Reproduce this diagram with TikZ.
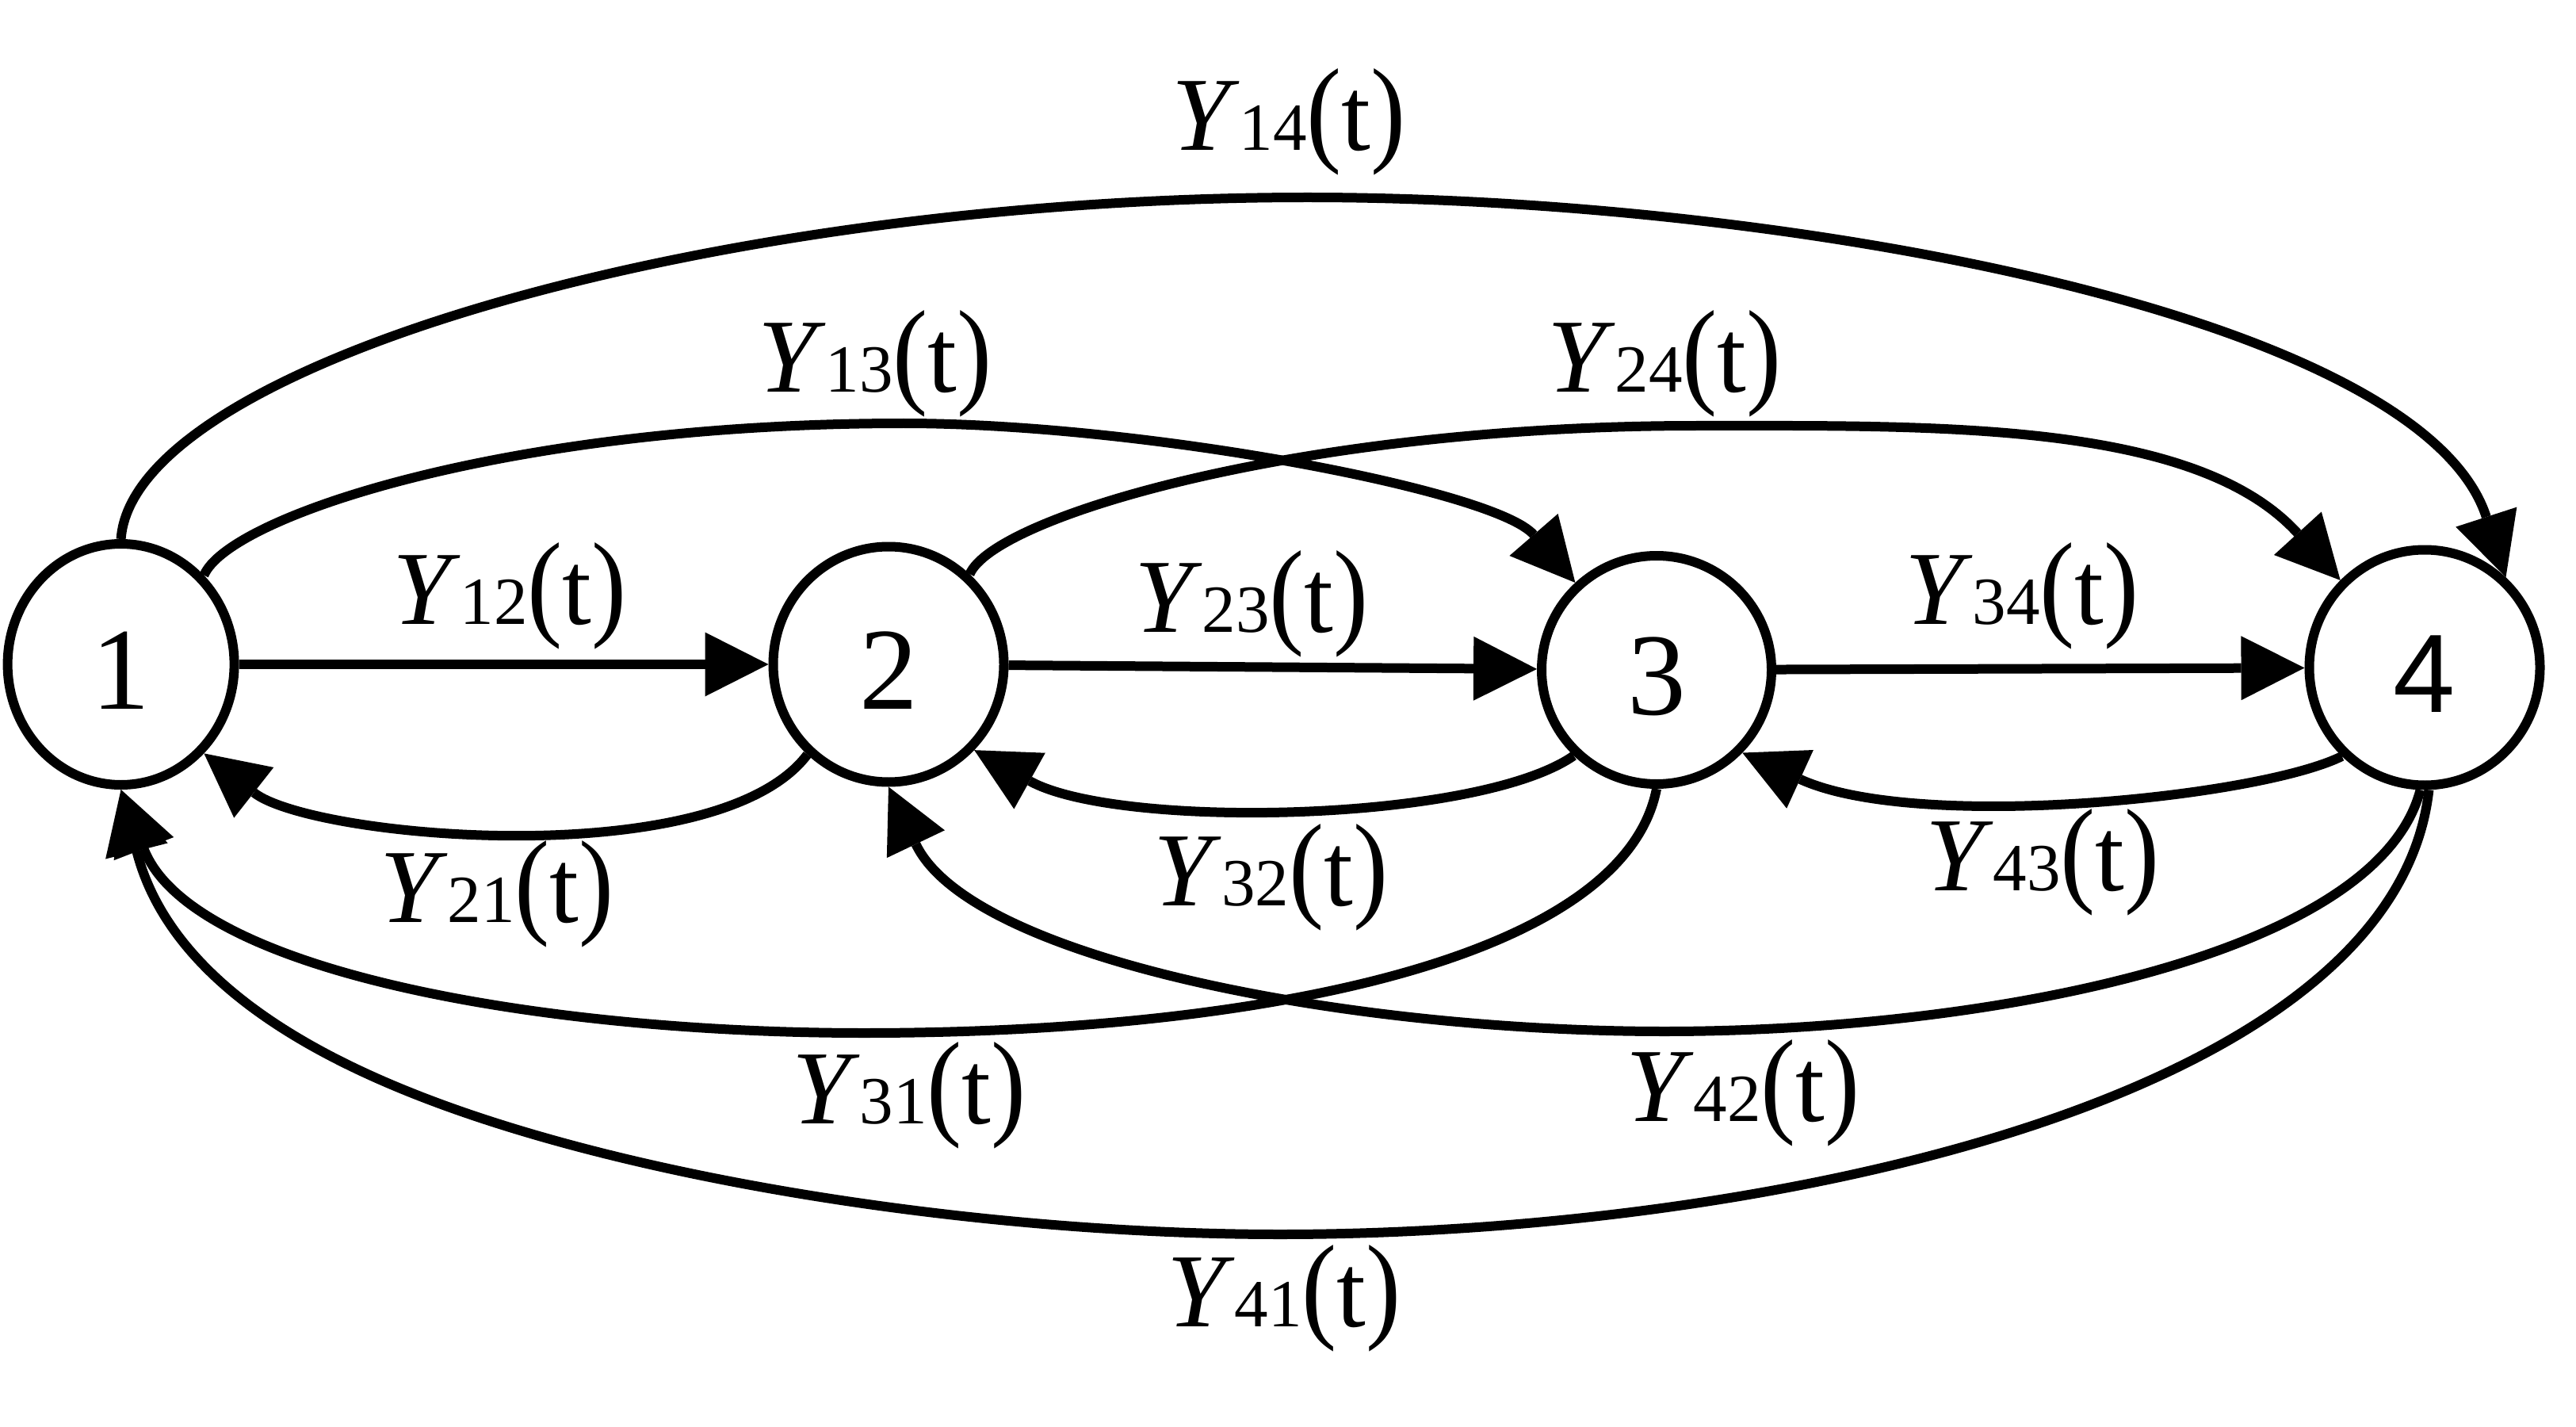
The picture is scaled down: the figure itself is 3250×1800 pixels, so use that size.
\documentclass[tikz,border=0pt]{standalone}
\usepackage{fontspec}
\setmainfont{Liberation Serif}
\newfontfamily\lsans{Liberation Sans}
\usepackage{graphicx}
\usetikzlibrary{arrows.meta,shapes.geometric}
\newcommand{\ylab}[1]{\textit{Y}{\fontsize{24.2pt}{26pt}\selectfont #1}\scalebox{1}[1.12]{(}t\scalebox{1}[1.12]{)}}
\begin{document}
\begin{tikzpicture}[x=0.1mm,y=-0.1mm,
  nd/.style={draw, ellipse, line width=1.2mm, inner sep=0pt, text height=11.2mm, text depth=0pt, font=\fontsize{42pt}{44pt}\selectfont},
  edge/.style={line width=1.2mm, -{Triangle[length=8mm,width=8.1mm,line width=0pt]}},
  lab/.style={anchor=base, inner sep=0pt, font=\fontsize{37.7pt}{40pt}\selectfont}]
\useasboundingbox (0,0) rectangle (3250,1800);
% states
\node[nd, minimum width=28.6mm, minimum height=30.4mm] (n1) at (152.6,838) {1};
\node[nd, minimum width=29.1mm, minimum height=29.7mm] (n2) at (1121,838) {2};
\node[nd, minimum width=29.0mm, minimum height=28.8mm] (n3) at (2090,845) {3};
\node[nd, minimum width=29.1mm, minimum height=29.7mm, font=\fontsize{40pt}{42pt}\lsans] (n4) at (3059,842) {4};
% straight transitions
\draw[edge] (n1) -- (n2);
\draw[edge] (n2) -- (n3);
\draw[edge] (n3) -- (n4);
% upper arcs
\draw[edge] (n1.north) .. controls (168,460) and (900,249) .. (1650,249)
  .. controls (2250,249) and (3054,396.5) .. (n4.48);
\draw[edge] (n1.47) .. controls (288,652) and (640,534) .. (1140,534)
  .. controls (1440,534) and (1886,618) .. (n3.133);
\draw[edge] (n2.48) .. controls (1254,652) and (1640,537) .. (2140,537)
  .. controls (2440,537) and (2769,530) .. (n4.134);
% lower short arcs
\draw[edge] (n2.228) .. controls (905,1103) and (394,1057.7) .. (n1.-47);
\draw[edge] (n3.226) .. controls (1864,1038) and (1409.6,1046.7) .. (n2.-45);
\draw[edge] (n4.227) .. controls (2849.4,1006.1) and (2417.7,1050) .. (n3.-44);
% lower long arcs
\draw[edge] (n3.south) .. controls (2048,1210) and (1590,1303) .. (1090,1303)
  .. controls (690,1303) and (241.8,1227) .. (n1.south);
\draw[edge] (n4.-88) .. controls (3020.6,1392) and (2215,1557) .. (1615,1557)
  .. controls (1265,1557) and (843,1497) .. (561,1394.5)
  .. controls (420,1343.2) and (216.5,1246.5) .. (n1.south);
\draw[edge] (n4.-92) .. controls (2998.6,1208) and (2500,1301) .. (2100,1301)
  .. controls (1700,1301) and (1224.6,1209.9) .. (n2.south);
% labels
\node[lab] (l12) at (643,787) {\ylab{12}};
\node[lab] (l13) at (1104,494.6) {\ylab{13}};
\node[lab] (l14) at (1626,189.4) {\ylab{14}};
\node[lab] (l24) at (2100,494.6) {\ylab{24}};
\node[lab] (l23) at (1579,797.6) {\ylab{23}};
\node[lab] (l34) at (2551,787) {\ylab{34}};
\node[lab] (l21) at (627,1163) {\ylab{21}};
\node[lab] (l32) at (1603.5,1142) {\ylab{32}};
\node[lab] (l43) at (2577,1123) {\ylab{43}};
\node[lab] (l31) at (1147,1417) {\ylab{31}};
\node[lab] (l42) at (2199,1414) {\ylab{42}};
\node[lab] (l41) at (1620,1673.7) {\ylab{41}};
\end{tikzpicture}
\end{document}
